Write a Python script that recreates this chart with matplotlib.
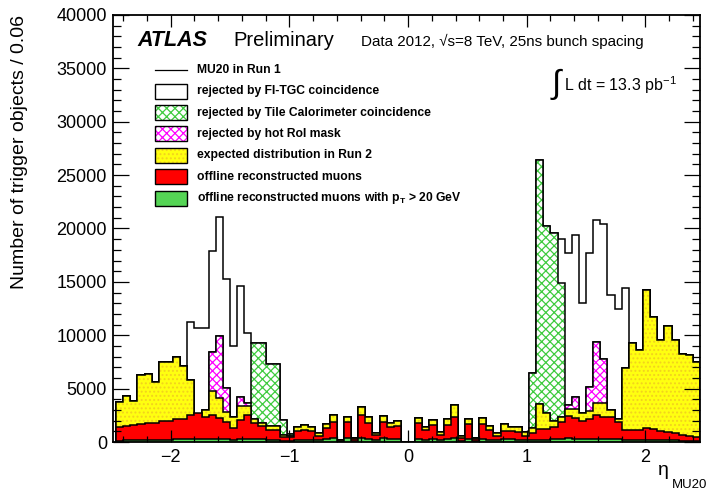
import numpy as np
import matplotlib
matplotlib.use("Agg")
import matplotlib.pyplot as plt
from matplotlib.patches import Rectangle
from matplotlib.lines import Line2D
from matplotlib.ticker import MultipleLocator

plt.rcParams['font.family'] = ['Liberation Sans', 'DejaVu Sans']
plt.rcParams['mathtext.fontset'] = 'custom'
plt.rcParams['mathtext.rm'] = 'Liberation Sans'
plt.rcParams['mathtext.it'] = 'Liberation Sans:italic'
plt.rcParams['mathtext.bf'] = 'Liberation Sans:bold'
plt.rcParams['hatch.linewidth'] = 0.9

# eta bins of width 0.06
eta_edges = np.round(np.arange(-2.46, 2.4601, 0.06), 2)

# MU20 trigger objects in Run 1 (all)
mu20_run1 = [
    3780, 4310, 3840, 6280, 6370, 5650, 7520, 7520, 7990, 7120,
    11270, 10650, 10700, 17890, 21050, 15300, 8990, 14610, 10240, 9250,
    9250, 7280, 7280, 2060, 750, 1370, 1590, 1440, 810, 1690,
    2530, 150, 2370, 370, 3310, 2370, 870, 2470, 1750, 2000,
    0, 0, 2280, 1370, 2060, 900, 2150, 3470, 590, 2150,
    340, 2220, 1500, 810, 1650, 1440, 1440, 900, 6500, 26420,
    20240, 19610, 18990, 17680, 19390, 12990, 17680, 20800, 20420, 13770,
    12430, 14400, 9240, 8620, 14240, 11680, 9560, 10870, 9560, 8250,
    8150, 7530,
]
# remaining after FI-TGC coincidence
after_fi_tgc = [
    3780, 4310, 3840, 6280, 6370, 5650, 7520, 7520, 7990, 7120,
    5810, 2220, 3000, 8400, 9960, 5030, 2300, 4250, 3690, 9250,
    9250, 7280, 7280, 2060, 750, 1370, 1590, 1440, 810, 1690,
    2530, 150, 2370, 370, 3310, 2370, 870, 2470, 1750, 2000,
    0, 0, 2280, 1370, 2060, 900, 2150, 3470, 590, 2150,
    340, 2220, 1500, 810, 1650, 1440, 1440, 900, 6500, 26420,
    20240, 19610, 14870, 3500, 4250, 2690, 5120, 9340, 7800, 3000,
    2150, 6960, 9240, 8620, 14240, 11680, 9560, 10870, 9560, 8250,
    8150, 7530,
]
# remaining after Tile Calorimeter coincidence
after_tile = [
    3780, 4310, 3840, 6280, 6370, 5650, 7520, 7520, 7990, 7120,
    5810, 2220, 3000, 8400, 9960, 5030, 2300, 4250, 3690, 2120,
    1750, 1500, 1500, 660, 560, 1370, 1590, 1440, 810, 1690,
    2530, 150, 2370, 370, 3310, 2370, 870, 2470, 1750, 2000,
    0, 0, 2280, 1370, 2060, 900, 2150, 3470, 590, 2150,
    340, 2220, 1500, 810, 1650, 1440, 1440, 900, 1280, 3560,
    2690, 2000, 2370, 3500, 4250, 2690, 5120, 9340, 7800, 3000,
    2150, 6960, 9240, 8620, 14240, 11680, 9560, 10870, 9560, 8250,
    8150, 7530,
]
# expected distribution in Run 2 (after hot RoI mask)
expected_run2 = [
    3780, 4310, 3840, 6280, 6370, 5650, 7520, 7520, 7990, 7120,
    5810, 2220, 3000, 4780, 4150, 2840, 2300, 3370, 3370, 2120,
    1750, 1500, 1500, 660, 560, 1370, 1590, 1440, 810, 1690,
    2530, 150, 2370, 370, 3310, 2370, 870, 2470, 1750, 2000,
    0, 0, 2280, 1370, 2060, 900, 2150, 3470, 590, 2150,
    340, 2220, 1500, 810, 1650, 1440, 1440, 900, 1280, 3560,
    2690, 2000, 2370, 3100, 3060, 2690, 2900, 3620, 3700, 3000,
    2150, 6960, 9240, 8620, 14240, 11680, 9560, 10870, 9560, 8250,
    8150, 7530,
]
# offline reconstructed muons
offline = [
    1440, 1500, 1560, 1690, 1810, 1810, 1970, 1970, 2120, 2120,
    2530, 2690, 2370, 2530, 2220, 1900, 1280, 2060, 2530, 1750,
    1500, 1120, 1120, 500, 440, 1030, 1120, 1030, 590, 1280,
    1900, 100, 1900, 250, 2530, 1750, 660, 1900, 1370, 1530,
    0, 0, 1750, 1120, 1590, 660, 1590, 2370, 340, 1690,
    250, 1690, 1120, 590, 1030, 1030, 970, 560, 810, 1190,
    1190, 1440, 1900, 2440, 2220, 2000, 2120, 2530, 2370, 2310,
    1900, 1120, 1120, 1120, 1340, 1190, 1060, 900, 810, 660,
    590, 440,
]
# offline reconstructed muons with pT > 20 GeV
offline_pt20 = [
    120, 150, 150, 180, 200, 200, 220, 220, 240, 240,
    260, 280, 300, 300, 300, 280, 200, 280, 300, 280,
    250, 230, 230, 100, 100, 200, 220, 200, 150, 260,
    330, 40, 330, 80, 380, 300, 160, 330, 260, 280,
    0, 0, 300, 220, 300, 150, 280, 380, 90, 300,
    80, 300, 220, 150, 250, 240, 220, 150, 180, 220,
    230, 260, 300, 330, 300, 280, 300, 320, 300, 300,
    260, 200, 200, 200, 220, 200, 180, 160, 150, 130,
    120, 100,
]

legend_labels = [
    "MU20 in Run 1",
    "rejected by FI-TGC coincidence",
    "rejected by Tile Calorimeter coincidence",
    "rejected by hot RoI mask",
    "expected distribution in Run 2",
    "offline reconstructed muons",
    r"offline reconstructed muons with $\mathbf{p_{T}}$ > 20 GeV",
]

W, H = 707, 494
fig = plt.figure(figsize=(W / 100, H / 100), dpi=100)


def fx(px):
    return px / W


def fy(py):
    return 1 - py / H


ax = fig.add_axes([fx(112.5), fy(442), fx(700) - fx(112.5), fy(15) - fy(442)])

styles = [
    dict(facecolor='white', edgecolor='white', hatch=None),
    dict(facecolor='white', edgecolor='#3FCB3F', hatch='xxxx'),
    dict(facecolor='white', edgecolor='#FF00FF', hatch='xxxx'),
    dict(facecolor='#FFFF10', edgecolor='#F2D21E', hatch='....'),
    dict(facecolor='#FF0000', edgecolor='#FF0000', hatch=None),
    dict(facecolor='#55D455', edgecolor='#55D455', hatch=None),
]
series = [mu20_run1, after_fi_tgc, after_tile, expected_run2, offline, offline_pt20]
for vals, st in zip(series, styles):
    ax.stairs(vals, eta_edges, baseline=0, fill=True, linewidth=0, **st)
    ax.stairs(vals, eta_edges, baseline=0, fill=False, color='black', linewidth=1.1)

ax.set_xlim(-2.49, 2.46)
ax.set_ylim(0, 40000)
ax.xaxis.set_major_locator(MultipleLocator(1))
ax.xaxis.set_minor_locator(MultipleLocator(0.2))
ax.yaxis.set_major_locator(MultipleLocator(5000))
ax.yaxis.set_minor_locator(MultipleLocator(1000))
ax.tick_params(which='both', direction='in', top=True, right=True, width=0.9, labelsize=13)
ax.tick_params(axis='x', which='major', length=8.6, pad=5)
ax.tick_params(axis='x', which='minor', length=4.3)
ax.tick_params(axis='y', which='major', length=11.5, pad=4)
ax.tick_params(axis='y', which='minor', length=5.8)
for s in ax.spines.values():
    s.set_linewidth(1.3)

fig.text(fx(20), fy(15), "Number of trigger objects / 0.06", rotation=90,
         ha='center', va='top', fontsize=14)
fig.text(fx(663), fy(470), "η", fontsize=14, ha='center', va='center')
fig.text(fx(690), fy(485), "MU20", fontsize=9.5, ha='center', va='center')

fig.text(fx(137), fy(40), "ATLAS", fontsize=15.5, fontweight='bold', fontstyle='italic',
         ha='left', va='center')
fig.text(fx(233), fy(40), "Preliminary", fontsize=14.5, ha='left', va='center')
fig.text(fx(361), fy(41), "Data 2012, √s=8 TeV, 25ns bunch spacing", fontsize=10.9,
         ha='left', va='center')
fig.text(fx(556), fy(84), "∫", fontsize=24, ha='center', va='center')
fig.text(fx(564), fy(85), r"L dt = 13.3 pb$^{\mathregular{-1}}$", fontsize=11.5,
         ha='left', va='center')

# legend: one line entry, then filled boxes in the drawing order of the layers
rows = [70, 91.3, 112.6, 134, 155.3, 176.6, 198]
box_x0, box_x1, box_h = 155, 187, 15
for i, (lab, y) in enumerate(zip(legend_labels, rows)):
    if i == 0:
        fig.add_artist(Line2D([fx(box_x0), fx(box_x1)], [fy(y), fy(y)],
                              transform=fig.transFigure, color='black', lw=0.9))
    else:
        st = styles[i - 1]
        xy = (fx(box_x0), fy(y + box_h / 2))
        w = fx(box_x1) - fx(box_x0)
        h = fy(y - box_h / 2) - fy(y + box_h / 2)
        fig.add_artist(Rectangle(xy, w, h, transform=fig.transFigure, linewidth=0, **st))
        fig.add_artist(Rectangle(xy, w, h, transform=fig.transFigure, fill=False,
                                 edgecolor='black', linewidth=1.0))
    fig.text(fx(197), fy(y), lab, fontsize=8.7, fontweight='bold', ha='left', va='center')

fig.savefig("out.png", dpi=100)
